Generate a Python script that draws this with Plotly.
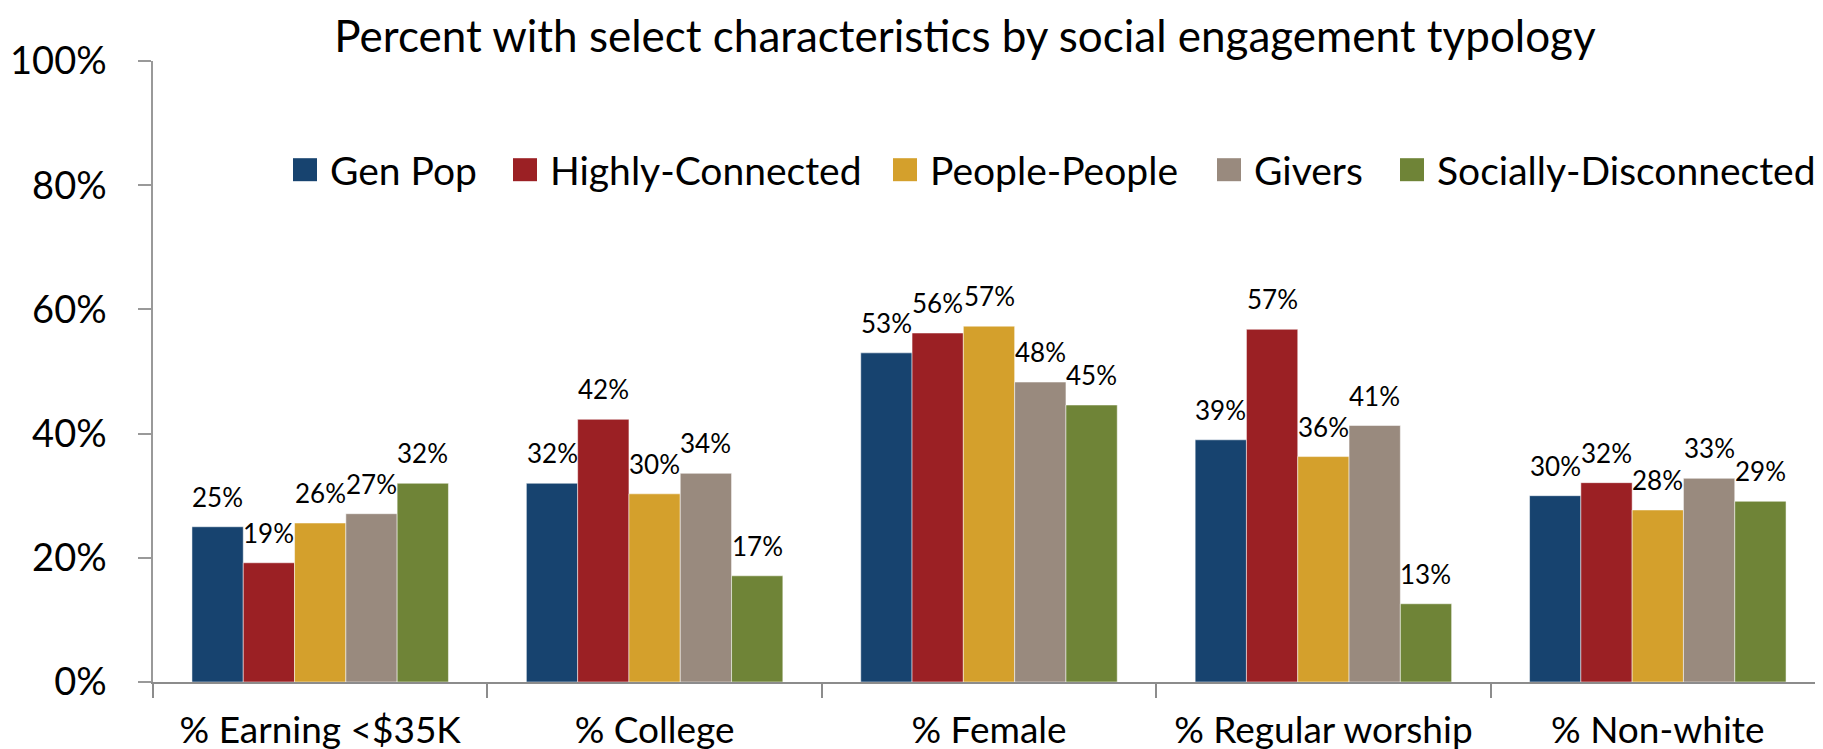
import plotly.graph_objects as go

categories = ["% Earning <$35K", "% College", "% Female", "% Regular worship", "% Non-white"]
series_names = ["Gen Pop", "Highly-Connected", "People-People", "Givers", "Socially-Disconnected"]
gen_pop = [25.0, 32.0, 53.0, 39.0, 30.0]
highly_connected = [19.2, 42.3, 56.2, 56.8, 32.1]
people_people = [25.6, 30.3, 57.3, 36.3, 27.7]
givers = [27.1, 33.6, 48.3, 41.3, 32.8]
socially_disconnected = [32.0, 17.1, 44.6, 12.6, 29.1]
y_ticks = [0, 20, 40, 60, 80, 100]

colors = ["#17436F", "#9B2024", "#D4A02C", "#998A7E", "#6F8437"]
series = [gen_pop, highly_connected, people_people, givers, socially_disconnected]

FONT = "Lato, 'Open Sans', sans-serif"
W, H = 1823, 749
L, R, T, B = 145, 6, 53, 75
PW, PH = W - L - R, H - T - B
BARGAP = 0.233

fig = go.Figure()
n = len(series)
bw = (1 - BARGAP) / n
annotations = []
for k, (name, vals, col) in enumerate(zip(series_names, series, colors)):
    fig.add_trace(go.Bar(
        x=categories, y=vals, name=name,
        marker=dict(color=col, line=dict(color="rgba(255,255,255,0.5)", width=1)),
        showlegend=False,
    ))
    off = -(1 - BARGAP) / 2 + (k + 0.5) * bw
    for i, v in enumerate(vals):
        annotations.append(dict(
            x=i + off, y=v, xref="x", yref="y", text=f"{int(v + 0.5)}%",
            showarrow=False, yanchor="middle", yshift=30,
            font=dict(family=FONT, size=26, color="black"),
        ))

# legend drawn by hand so the swatches match the large squares
leg_sq_x = [285, 505, 885, 1209, 1392]
leg_y = 161.7
shapes = []
for name, col, px in zip(series_names, colors, leg_sq_x):
    shapes.append(dict(type="rect", xref="paper", yref="paper",
                       x0=(px - L) / PW, x1=(px + 24 - L) / PW,
                       y0=(H - B - (leg_y + 11.5)) / PH, y1=(H - B - (leg_y - 11.5)) / PH,
                       fillcolor=col, line=dict(width=0)))
    annotations.append(dict(
        x=(px + 35 - L) / PW, y=(H - B - leg_y) / PH, xref="paper", yref="paper",
        text=name, showarrow=False, xanchor="left", yanchor="middle",
        font=dict(family=FONT, size=39, color="black"),
    ))

fig.update_layout(
    width=W, height=H,
    margin=dict(l=L, r=R, t=T, b=B, autoexpand=False),
    plot_bgcolor="white", paper_bgcolor="white",
    barmode="group", bargap=BARGAP, bargroupgap=0,
    title=dict(text="Percent with select characteristics by social engagement typology",
               x=957 / W, xanchor="center", y=1 - 28.6 / H, yanchor="middle",
               font=dict(family=FONT, size=44, color="black")),
    font=dict(family=FONT, color="black"),
    annotations=annotations,
    shapes=shapes,
    showlegend=False,
)
fig.update_xaxes(
    automargin=False,
    showline=True, linecolor="#8C8C8C", linewidth=2,
    ticks="outside", tickson="boundaries", ticklen=14, tickwidth=1.5, tickcolor="#8C8C8C",
    tickfont=dict(family=FONT, size=37, color="black"), ticklabelstandoff=15,
    showgrid=False,
)
fig.update_yaxes(
    automargin=False,
    range=[0, 100], tickvals=y_ticks, ticktext=[f"{t}%" for t in y_ticks],
    showline=True, linecolor="#999999", linewidth=1.5,
    ticks="outside", ticklen=13, tickwidth=1.5, tickcolor="#999999",
    tickfont=dict(family=FONT, size=38, color="black"), ticklabelstandoff=24,
    showgrid=False, zeroline=False,
)

fig.write_html("out.html")
